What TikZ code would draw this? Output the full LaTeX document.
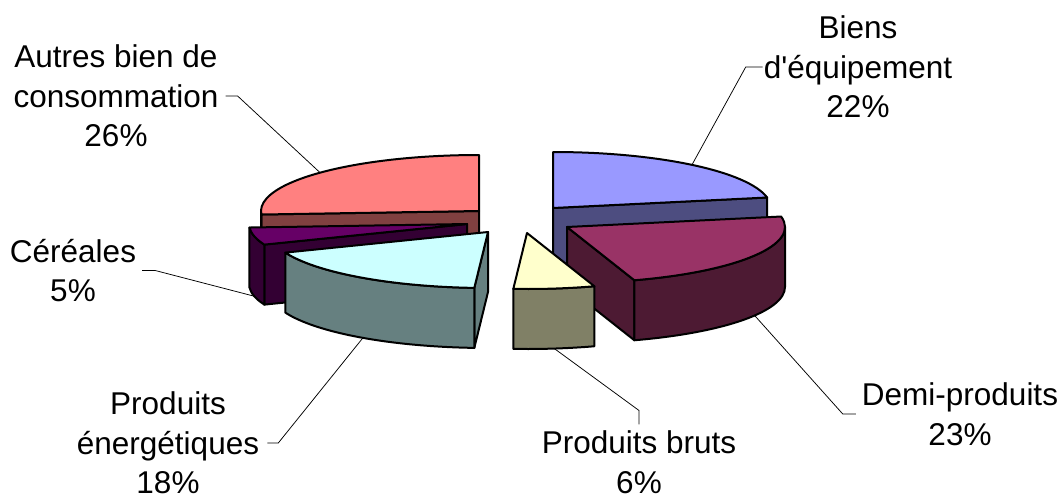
\documentclass[tikz,border=0pt]{standalone}
\usepackage{fontspec}
\setmainfont{Liberation Sans}
\usetikzlibrary{calc}

\definecolor{autresTop}{HTML}{FF8080}
\definecolor{autresSide}{HTML}{804040}
\definecolor{biensTop}{HTML}{9999FF}
\definecolor{biensSide}{HTML}{4D4D80}
\definecolor{demiTop}{HTML}{993366}
\definecolor{demiSide}{HTML}{4D1A33}
\definecolor{brutsTop}{HTML}{FFFFCC}
\definecolor{brutsSide}{HTML}{808066}
\definecolor{energTop}{HTML}{CCFFFF}
\definecolor{energSide}{HTML}{668080}
\definecolor{cerTop}{HTML}{660066}
\definecolor{cerSide}{HTML}{330033}

\begin{document}
\begin{tikzpicture}
            [x=1pt,y=1pt,
             face/.style={draw=black,line width=2pt,line join=round},
             rim/.style={x radius=218,y radius=56},
             leader/.style={draw=black,line width=0.75pt},
             lbl/.style={align=center,inner sep=0pt,font=\fontsize{31.5}{39.5}\selectfont}]
            \useasboundingbox (0,0) rectangle (1063,-501);

            % apex of each exploded slice
            \coordinate (autres) at (479,-211);
            \coordinate (biens)  at (553,-208);
            \coordinate (cer)    at (467,-224);
            \coordinate (demi)   at (567,-227);
            \coordinate (energ)  at (488,-232);
            \coordinate (bruts)  at (527,-233);

            % autres biens de consommation, 90 to 183.6
            \filldraw[face,fill=autresSide] (autres) -- ($(autres)+(183.6:218 and 56)$) -- ++(0,-60) -- ($(autres)+(0,-60)$) -- cycle;
            \filldraw[face,fill=autresSide] ($(autres)+(180:218 and 56)$) arc[rim,start angle=180,end angle=183.6] -- ++(0,-60) arc[rim,start angle=183.6,end angle=180] -- cycle;
            \filldraw[face,fill=autresTop] (autres) -- ($(autres)+(90:218 and 56)$) arc[rim,start angle=90,end angle=183.6] -- cycle;

            % biens d'equipement, 10.8 to 90
            \filldraw[face,fill=biensSide] (biens) -- ($(biens)+(10.8:218 and 56)$) -- ++(0,-60) -- ($(biens)+(0,-60)$) -- cycle;
            \filldraw[face,fill=biensTop] (biens) -- ($(biens)+(10.8:218 and 56)$) arc[rim,start angle=10.8,end angle=90] -- cycle;

            % cereales, 183.6 to 201.6
            \filldraw[face,fill=cerSide] (cer) -- ($(cer)+(201.6:218 and 56)$) -- ++(0,-60) -- ($(cer)+(0,-60)$) -- cycle;
            \filldraw[face,fill=cerSide] ($(cer)+(183.6:218 and 56)$) arc[rim,start angle=183.6,end angle=201.6] -- ++(0,-60) arc[rim,start angle=201.6,end angle=183.6] -- cycle;
            \filldraw[face,fill=cerTop] (cer) -- ($(cer)+(183.6:218 and 56)$) arc[rim,start angle=183.6,end angle=201.6] -- cycle;

            % demi-produits, -72 to 10.8
            \filldraw[face,fill=demiSide] (demi) -- ($(demi)+(-72:218 and 56)$) -- ++(0,-60) -- ($(demi)+(0,-60)$) -- cycle;
            \filldraw[face,fill=demiSide] ($(demi)+(-72:218 and 56)$) arc[rim,start angle=-72,end angle=0] -- ++(0,-60) arc[rim,start angle=0,end angle=-72] -- cycle;
            \filldraw[face,fill=demiTop] (demi) -- ($(demi)+(-72:218 and 56)$) arc[rim,start angle=-72,end angle=10.8] -- cycle;

            % produits energetiques, -158.4 to -93.6
            \filldraw[face,fill=energSide] (energ) -- ($(energ)+(-93.6:218 and 56)$) -- ++(0,-60) -- ($(energ)+(0,-60)$) -- cycle;
            \filldraw[face,fill=energSide] ($(energ)+(-158.4:218 and 56)$) arc[rim,start angle=-158.4,end angle=-93.6] -- ++(0,-60) arc[rim,start angle=-93.6,end angle=-158.4] -- cycle;
            \filldraw[face,fill=energTop] (energ) -- ($(energ)+(-158.4:218 and 56)$) arc[rim,start angle=-158.4,end angle=-93.6] -- cycle;

            % produits bruts, -93.6 to -72
            \filldraw[face,fill=brutsSide] ($(bruts)+(-93.6:218 and 56)$) arc[rim,start angle=-93.6,end angle=-72] -- ++(0,-60) arc[rim,start angle=-72,end angle=-93.6] -- cycle;
            \filldraw[face,fill=brutsTop] (bruts) -- ($(bruts)+(-93.6:218 and 56)$) arc[rim,start angle=-93.6,end angle=-72] -- cycle;

            % labels
            \node[lbl] (autresLbl) at (116,-96) {Autres bien de\\consommation\\26\%};
            \node[lbl] (biensLbl) at (858,-67) {Biens\\d\textquotesingle équipement\\22\%};
            \node[lbl] (cerLbl) at (73,-270.5) {Céréales\\5\%};
            \node[lbl] (energLbl) at (168,-443) {Produits\\énergétiques\\18\%};
            \node[lbl] (demiLbl) at (960,-414) {Demi-produits\\23\%};
            \node[lbl] (brutsLbl) at (639,-462) {Produits bruts\\6\%};

            % leader ends on the slices
            \coordinate (autresTip) at ($(autres)+(136.8:218 and 56)$);
            \coordinate (biensTip) at ($(biens)+(50.4:218 and 56)$);
            \coordinate (cerTip) at ($(cer)+(192.6:218 and 56)+(0,-60)$);
            \coordinate (energTip) at (362,-339);
            \coordinate (demiTip) at ($(demi)+(-30.6:218 and 56)+(0,-60)$);
            \coordinate (brutsTip) at ($(bruts)+(-82.8:218 and 56)+(0,-60)$);

            % leaders
            \draw[leader] ([xshift=7pt]autresLbl.east) -- ++(12,0) -- (autresTip);
            \draw[leader] ([xshift=-1pt]biensLbl.west) -- ++(-17,0) -- (biensTip);
            \draw[leader] ([xshift=6pt]cerLbl.east) -- ++(13,0) -- (cerTip);
            \draw[leader] ([xshift=8pt]energLbl.east) -- ++(11,0) -- (energTip);
            \draw[leader] ([xshift=-6pt]demiLbl.west) -- ++(-13,0) -- (demiTip);
            \draw[leader] ([yshift=6pt]brutsLbl.north) -- ++(0,14) -- (brutsTip);
        \end{tikzpicture}
\end{document}
